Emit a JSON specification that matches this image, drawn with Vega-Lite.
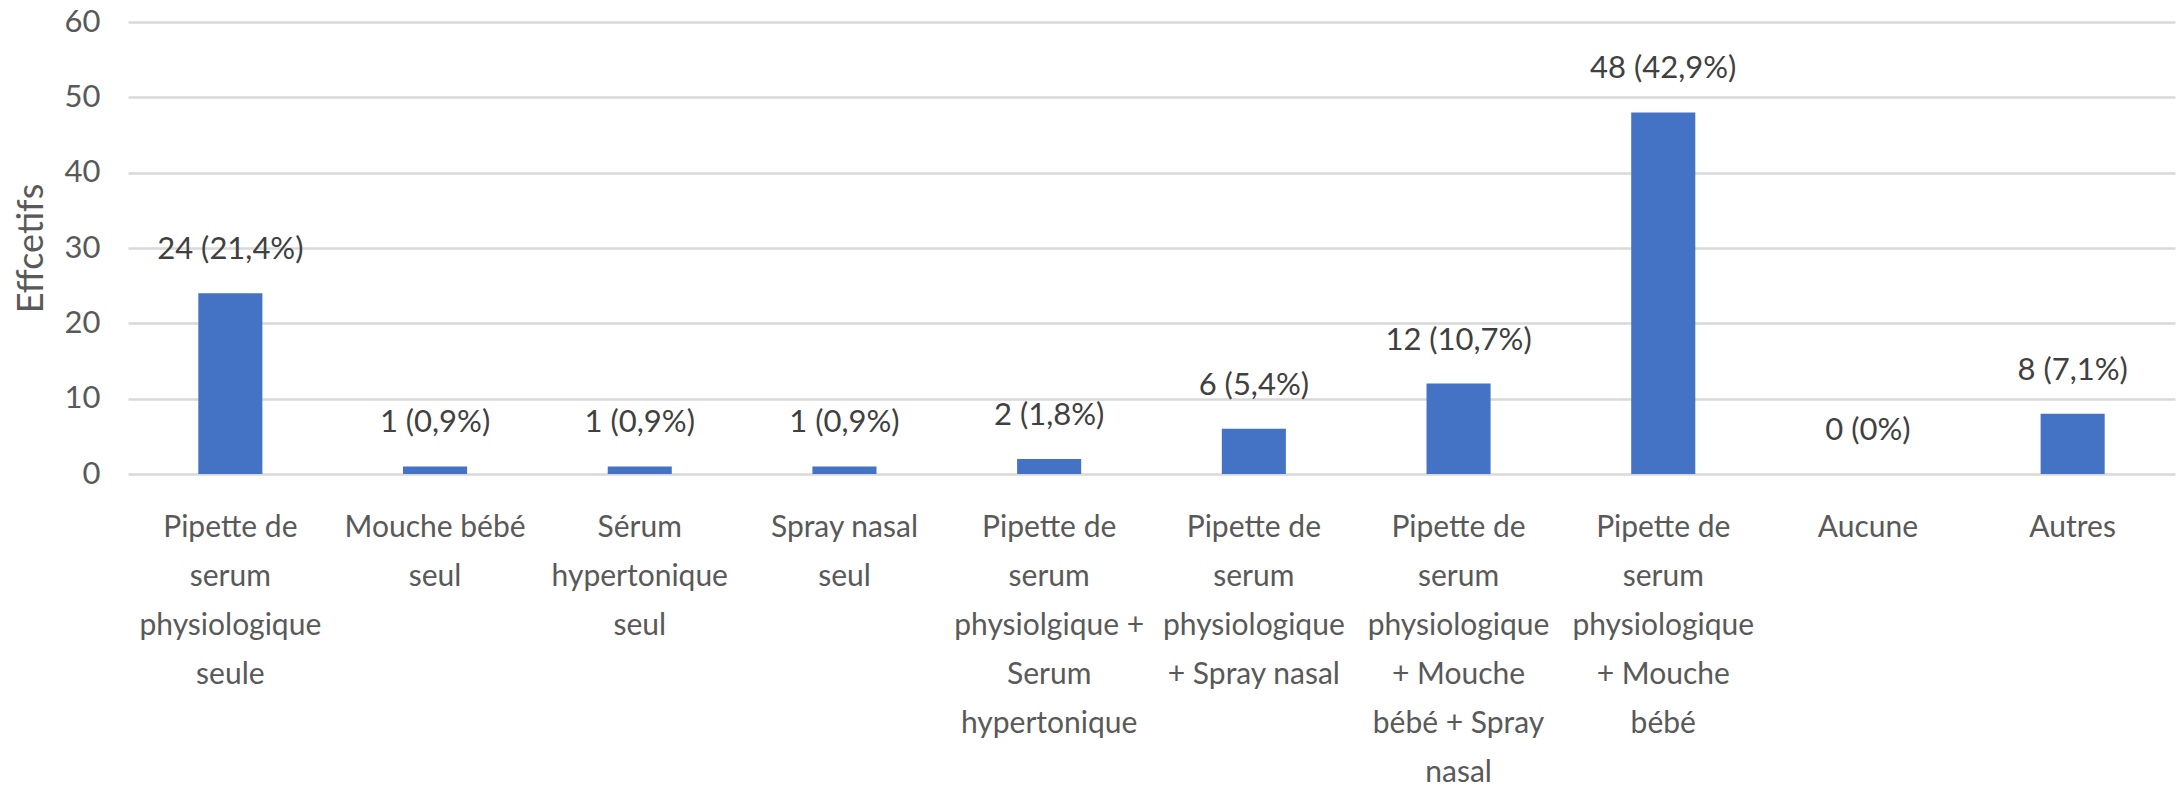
{
  "$schema": "https://vega.github.io/schema/vega-lite/v6.json",
  "autosize": {"type": "none"},
  "padding": {"left": 128, "top": 22, "right": 2, "bottom": 316},
  "width": 2047,
  "height": 452,
  "background": "white",
  "config": {"view": {"stroke": null}, "font": "Lato"},
  "data": {
    "values": [
      {"cat": "Pipette de\nserum\nphysiologique\nseule", "n": 24, "label": "24 (21,4%)"},
      {"cat": "Mouche bébé\nseul", "n": 1, "label": "1 (0,9%)"},
      {"cat": "Sérum\nhypertonique\nseul", "n": 1, "label": "1 (0,9%)"},
      {"cat": "Spray nasal\nseul", "n": 1, "label": "1 (0,9%)"},
      {"cat": "Pipette de\nserum\nphysiolgique +\nSerum\nhypertonique", "n": 2, "label": "2 (1,8%)"},
      {"cat": "Pipette de\nserum\nphysiologique\n+ Spray nasal", "n": 6, "label": "6 (5,4%)"},
      {"cat": "Pipette de\nserum\nphysiologique\n+ Mouche\nbébé + Spray\nnasal", "n": 12, "label": "12 (10,7%)"},
      {"cat": "Pipette de\nserum\nphysiologique\n+ Mouche\nbébé", "n": 48, "label": "48 (42,9%)"},
      {"cat": "Aucune", "n": 0, "label": "0 (0%)"},
      {"cat": "Autres", "n": 8, "label": "8 (7,1%)"}
    ]
  },
  "encoding": {
    "x": {
      "field": "cat",
      "type": "nominal",
      "sort": null,
      "scale": {"paddingInner": 0.687, "paddingOuter": 0.3435},
      "axis": {
        "title": null,
        "labelAngle": 0,
        "labelExpr": "split(datum.value, '\\n')",
        "labelFont": "Lato",
        "labelFontSize": 30,
        "labelColor": "#595959",
        "labelLineHeight": 49,
        "labelBaseline": "top",
        "labelPadding": 38,
        "labelLimit": 0,
        "ticks": false,
        "domain": false,
        "labelAlign": "center"
      }
    },
    "y": {
      "field": "n",
      "type": "quantitative",
      "scale": {"domain": [0, 60], "nice": false},
      "axis": {
        "values": [0, 10, 20, 30, 40, 50, 60],
        "title": "Effcetifs",
        "titleFont": "Lato",
        "titleFontSize": 36,
        "titleFontWeight": "normal",
        "titleColor": "#595959",
        "titleAngle": -90,
        "titleX": -97,
        "titleY": 226,
        "titleAlign": "center",
        "titleBaseline": "middle",
        "labelFont": "Lato",
        "labelFontSize": 31,
        "labelColor": "#595959",
        "labelPadding": 28,
        "ticks": false,
        "domain": false,
        "gridColor": "#d9d9d9",
        "gridWidth": 2.5
      }
    }
  },
  "layer": [
    {"mark": {"type": "bar", "color": "#4472C4"}},
    {
      "mark": {"type": "text", "baseline": "middle", "align": "center", "dy": -43, "font": "Lato", "fontSize": 31, "color": "#404040"},
      "encoding": {"text": {"field": "label"}}
    }
  ]
}
